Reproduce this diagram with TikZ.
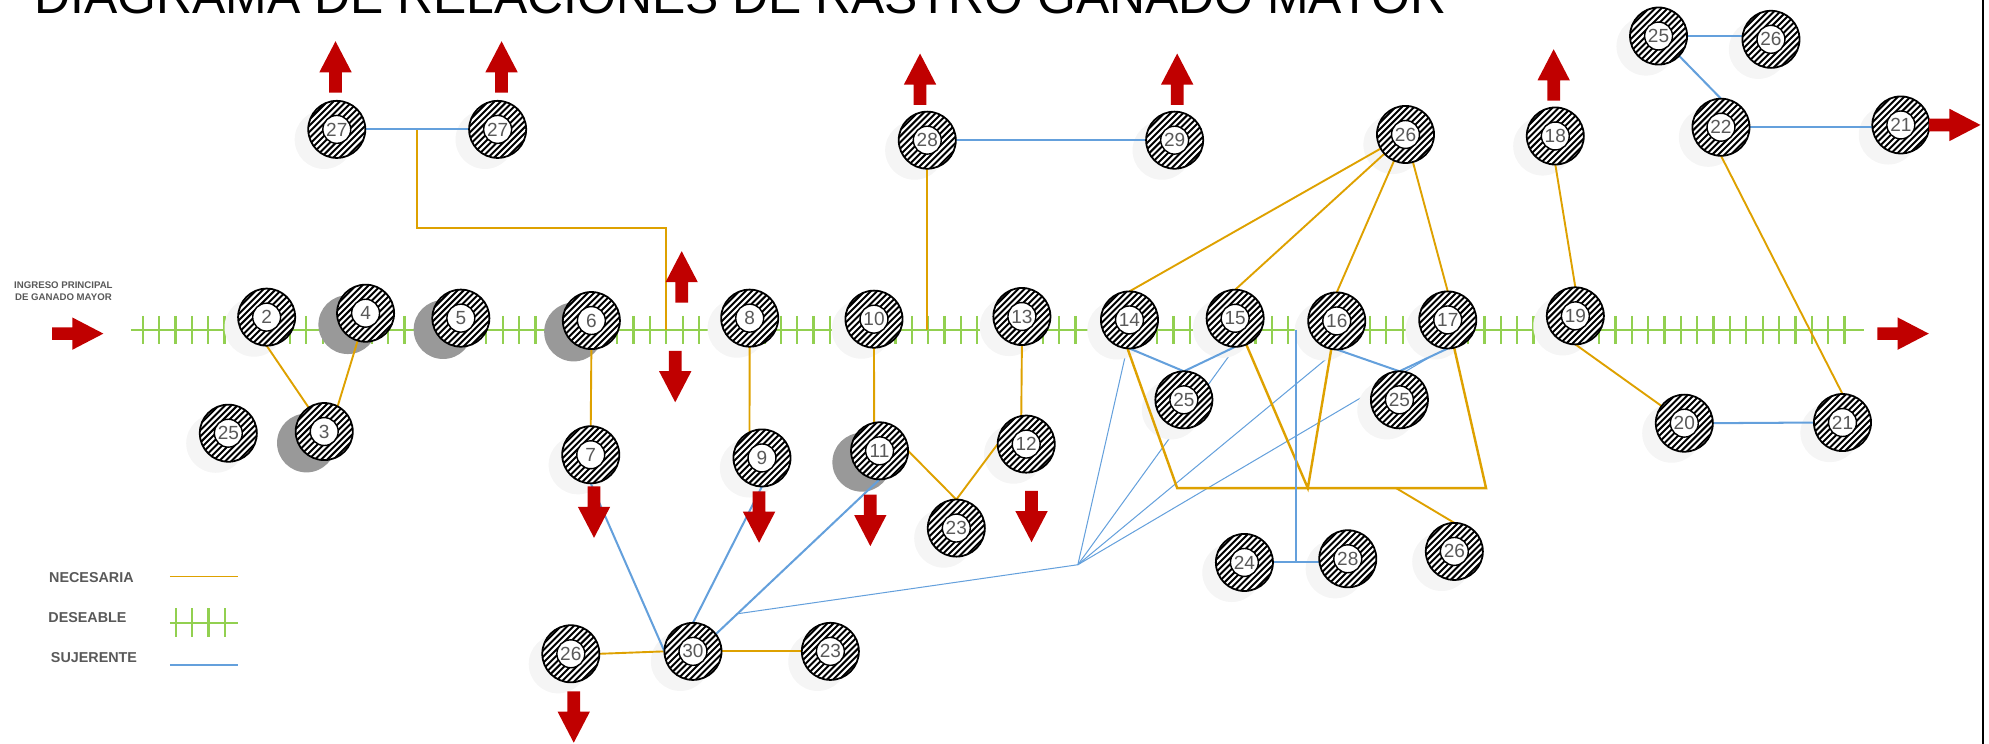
\documentclass[tikz,border=0pt]{standalone}
\usepackage{fontspec}
\setmainfont{Liberation Sans}
\usetikzlibrary{calc}
\definecolor{necc}{RGB}{222,161,0}
\definecolor{desc}{RGB}{146,208,80}
\definecolor{sujc}{RGB}{100,160,220}
\definecolor{arrc}{RGB}{192,0,0}
\definecolor{txtg}{RGB}{89,89,89}
\pgfdeclarelayer{bg}\pgfdeclarelayer{shd}\pgfdeclarelayer{lns}
\pgfsetlayers{bg,shd,lns,main}
\begin{document}
\begin{tikzpicture}[x=1pt,y=-1pt,
  stn/.style={circle, minimum size=45pt, inner sep=0pt, outer sep=0pt, draw=black, line width=1.4pt, fill=white,
    path picture={
      \foreach \k in {-7,...,7}
        \draw[line width=1.55pt] ([shift={(\k*4.9-28,28)}]path picture bounding box.center) -- ++(56,-56);
      \draw[fill=white, line width=1.1pt] (path picture bounding box.center) circle (11pt);},
    font=\fontsize{15}{15}\selectfont, text=txtg},
  shf/.style={fill=black!4},
  shdk/.style={fill=black!40},
  necl/.style={draw=necc, line width=1.5pt},
  nect/.style={draw=necc, line width=1.9pt},
  sujl/.style={draw=sujc, line width=1.6pt},
  sujt/.style={draw=sujc, line width=0.8pt},
  desl/.style={draw=desc, line width=1.8pt},
  lbl/.style={font=\bfseries\fontsize{11.3}{12}\selectfont, text=txtg, inner sep=0pt, anchor=west},
  barrow/.pic={\fill[arrc] (0,-5) -- (16,-5) -- (16,-12.75) -- (40.5,0) -- (16,12.75) -- (16,5) -- (0,5) -- cycle;}
]
\useasboundingbox (0,0) rectangle (1568,586.5);

% title
\begin{scope}
\clip (0,0) rectangle (1568,586.5);
\node[font=\fontsize{39.3}{40}\selectfont, anchor=base west, inner sep=0pt] (title) at (27,11) {DIAGRAMA DE RELACIONES DE RASTRO GANADO MAYOR};
\end{scope}

% border line on the right
\coordinate (br0) at (1563.5,0);
\coordinate (br1) at (1563.5,586.5);
\draw[line width=1.6pt] (br0) -- (br1);

% nodes
\node[stn] (n2) at (210.2,250) {2};
\node[stn] (n4) at (288.2,246.9) {4};
\node[stn] (n5) at (363.3,250.8) {5};
\node[stn] (n6) at (466.2,252.7) {6};
\node[stn] (n8) at (591,250.8) {8};
\node[stn] (n10) at (689,251.6) {10};
\node[stn] (n13) at (805.6,249.5) {13};
\node[stn] (n14) at (890.4,252.2) {14};
\node[stn] (n15) at (973.7,250.9) {15};
\node[stn] (n16) at (1053.8,253) {16};
\node[stn] (n17) at (1141.3,252.2) {17};
\node[stn] (n19) at (1241.9,249) {19};
\node[stn] (n3) at (255.6,340.2) {3};
\node[stn] (n25a) at (180,341.5) {25};
\node[stn] (n7) at (465.7,358.5) {7};
\node[stn] (n9) at (600.7,361) {9};
\node[stn] (n11) at (693.4,355.4) {11};
\node[stn] (n12) at (809,350.1) {12};
\node[stn] (n23a) at (753.9,416.3) {23};
\node[stn] (n30) at (546.3,513.5) {30};
\node[stn] (n26a) at (450,515.4) {26};
\node[stn] (n23b) at (654.6,513.5) {23};
\node[stn] (n27a) at (265.5,102) {27};
\node[stn] (n27b) at (392.3,102) {27};
\node[stn] (n28a) at (731,110.5) {28};
\node[stn] (n29) at (926,110.5) {29};
\node[stn] (n26b) at (1108,106) {26};
\node[stn] (n18) at (1226.1,107.2) {18};
\node[stn] (n25b) at (1307.5,28.4) {25};
\node[stn] (n26c) at (1396.1,31) {26};
\node[stn] (n22) at (1356.7,100.3) {22};
\node[stn] (n21a) at (1498.5,98.5) {21};
\node[stn] (n20) at (1327.8,333.6) {20};
\node[stn] (n21b) at (1452.5,333.1) {21};
\node[stn] (n25c) at (933.3,315.2) {25};
\node[stn] (n25d) at (1103.2,315.2) {25};
\node[stn] (n24) at (981,443.4) {24};
\node[stn] (n28b) at (1062.5,440.5) {28};
\node[stn] (n26d) at (1146.5,434.7) {26};

% shadows
\begin{pgfonlayer}{shd}
\foreach \n in {n2,n8,n10,n13,n14,n15,n16,n17,n19,n25a,n7,n9,n12,n23a,n30,n26a,n23b,n27a,n27b,n28a,n29,n26b,n18,n25b,n26c,n22,n21a,n20,n21b,n25c,n25d,n24,n28b,n26d}
  \fill[shf] ($(\n.center)+(-10,8)$) circle (23.2pt);
\foreach \n in {n3,n4,n5,n6,n11}
  \fill[shdk] ($(\n.center)+(-14,9)$) circle (23.2pt);
\end{pgfonlayer}

% background: main desirable line and thin suggested lines to the hub
\coordinate (g0) at (103.2,260);
\coordinate (g1) at (1469.5,260);
\coordinate (hub) at (849.7,445.2);
\begin{pgfonlayer}{bg}
\draw[desl] (g0) -- (g1);
\foreach \i in {0,...,104} \draw[desl] ({112.45+12.9*\i},249) -- ++(0,22);
\coordinate (h30) at ($(n11.south)!0.868!(n30.37)$);
\draw[sujt] (h30) -- (hub);
\draw[sujt] (hub) -- (n14.265);
\draw[sujt] (hub) -- (n15.271);
\draw[sujt] (hub) -- (n16.272);
\draw[sujt] (hub) -- (n17.264);
\end{pgfonlayer}

% connectors
\coordinate (j27) at ($(n27a.east)!0.5!(n27b.west)$);
\coordinate (c27) at (525,180);
\coordinate (t1) at (928,384.8);
\coordinate (t2) at (1171.5,384.8);
\coordinate (tv) at (1031,384.8);
\coordinate (tb) at (1100.6,384.8);
\begin{pgfonlayer}{lns}
% necesaria
\draw[necl] (n2.south) -- (n3.123);
\draw[necl] (n4.254) -- (n3.62);
\draw[necl] (n6.south) -- (n7.north);
\draw[necl] (n8.south) -- (n9.116);
\draw[necl] (n10.south) -- (n11.101);
\draw[necl] (n13.south) -- (n12.100);
\draw[necl] (n11.east) -- (n23a.north);
\draw[necl] (n12.west) -- (n23a.north);
\draw[necl] (n26a.east) -- (n30.west);
\draw[necl] (n30.east) -- (n23b.west);
\draw[necl] (n18.south) -- (n19.north);
\draw[necl] (n19.south) -- (n20.143);
\draw[necl] (n22.south) -- (n21b.north);
\draw[necl] (n28a.south) -- (n28a.south |- g0);
\draw[necl] (j27) |- (c27) -- (c27 |- g0);
\draw[necl] (n14.north) -- (n26b);
\draw[necl] (n15.north) -- (n26b);
\draw[necl] (n16.north) -- (n26b);
\draw[necl] (n17.north) -- (n26b);
\draw[nect] (n14.266) -- (t1) -- (t2) -- (n17.283);
\draw[nect] (n15.293) -- (tv) -- (n16.259);
\draw[necl] (tb) -- (n26d.north);
% sujerente
\draw[sujl] (n27a.east) -- (n27b.west);
\draw[sujl] (n28a.east) -- (n29.west);
\draw[sujl] (n25b.east) -- (n25b.east -| n26c.west);
\draw[sujl] (n25b.316) -- (n22.north);
\draw[sujl] (n22.east) -- (n22.east -| n21a.west);
\draw[sujl] (n20.east) -- (n21b.west);
\draw[sujl] (n24.east) -- (n24.east -| n28b.west);
\coordinate (b24) at ($(n24.east)!0.5!(n24.east -| n28b.west)$);
\draw[sujl] (b24 |- g0) -- (b24);
\draw[sujl] (n14.south) -- (n25c.north);
\draw[sujl] (n15.south) -- (n25c.north);
\draw[sujl] (n16.south) -- (n25d.north);
\draw[sujl] (n17.south) -- (n25d.north);
\draw[sujl] (n7.south) -- (n30.west);
\draw[sujl] (n9.south) -- (n30.north);
\draw[sujl] (n11.south) -- (n30.37);
\end{pgfonlayer}

% red flow arrows
\foreach \p in {(264.5,73),(395.4,73),(725.3,82.7),(928,82.7),(1224.8,79.3),(537.4,238.5)}
  \pic[rotate=90] at \p {barrow};
\foreach \p in {(532.3,276.6),(468.3,383.5),(598.4,387.4),(686.1,390),(813.2,386.9),(452.3,545)}
  \pic[rotate=-90] at \p {barrow};
\foreach \p in {(41,263),(1480,263),(1520.8,98.5)}
  \pic at \p {barrow};

% entry label
\node[font=\bfseries\fontsize{7.6}{9.3}\selectfont, text=txtg, align=center, inner sep=0pt] (ingreso) at (50,229.5) {INGRESO PRINCIPAL\\DE GANADO MAYOR};

% legend
\node[lbl] (lnec) at (38.6,455) {NECESARIA};
\node[lbl] (ldes) at (38,487) {DESEABLE};
\node[lbl] (lsuj) at (40,518.5) {SUJERENTE};
\coordinate (la0) at (134,454.5);
\coordinate (la1) at (187.6,454.5);
\coordinate (lb0) at (134,491);
\coordinate (lb1) at (187.6,491);
\coordinate (lc0) at (134,524);
\coordinate (lc1) at (187.6,524);
\draw[necl] (la0) -- (la1);
\draw[desl] (lb0) -- (lb1);
\foreach \x in {138.5,151.5,164.4,177.3} \draw[desl] (\x,479.5) -- (\x,502.5);
\draw[sujl] (lc0) -- (lc1);
\end{tikzpicture}
\end{document}
